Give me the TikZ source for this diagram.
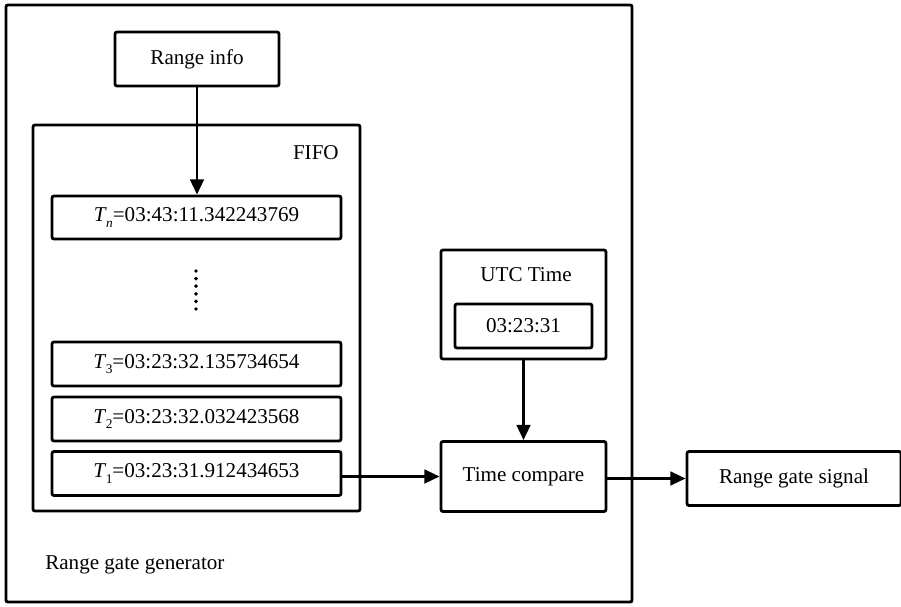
\documentclass[tikz,border=0pt]{standalone}
\usepackage{fontspec}
\setmainfont{Liberation Serif}
\usetikzlibrary{arrows.meta,positioning}
\newcommand{\tsub}[1]{\textit{T}\kern-0.5pt\raisebox{-0.55ex}{\fontsize{9.5}{10}\selectfont #1}}
\tikzset{
  blk/.style={draw,line width=2pt,rounded corners=1.5pt,align=center,
              font=\fontsize{15}{18}\selectfont,inner sep=2pt,fill=white},
  frame/.style={draw,line width=2pt,rounded corners=1.5pt},
  lbl/.style={font=\fontsize{15}{18}\selectfont,inner sep=0pt},
  arr/.style={-{Triangle[length=3.8mm,width=3.4mm]},line width=2pt},
}
\begin{document}
\begin{tikzpicture}[x=0.025cm,y=-0.025cm]
  \useasboundingbox (0,0) rectangle (901,606);
  \node[frame,minimum width=15.65cm,minimum height=14.925cm] (gen) at (319,303.5) {};
  \node[lbl,anchor=west] (genlbl) at (45,565) {Range gate generator};
  % range info and fifo
  \node[blk,minimum width=4.1cm,minimum height=1.35cm] (rinfo) at (197,59) {Range info};
  \node[frame,minimum width=8.175cm,minimum height=9.65cm] (fifo) at (196.5,318) {};
  \node[lbl,anchor=east] (fifolbl) at (339,153) {FIFO};
  \node[blk,minimum width=7.225cm,minimum height=1.075cm] (tn) at (196.5,217.5) {\tsub{\textit{n}}=03:43:11.342243769};
  \foreach \k in {0,...,5} \fill (196,271+7.6*\k) circle (1.4pt);
  \node[blk,minimum width=7.225cm,minimum height=1.1cm] (t3) at (196.5,364) {\tsub{3}=03:23:32.135734654};
  \node[blk,minimum width=7.225cm,minimum height=1.1cm] (t2) at (196.5,419) {\tsub{2}=03:23:32.032423568};
  \node[blk,minimum width=7.225cm,minimum height=1.1cm] (t1) at (196.5,473.5) {\tsub{1}=03:23:31.912434653};
  % clock and compare
  \node[frame,minimum width=4.125cm,minimum height=2.725cm] (utc) at (523.5,304.5) {};
  \node[lbl] (utclbl) at (526,275) {UTC Time};
  \node[blk,minimum width=3.425cm,minimum height=1.1cm] (clock) at (523.5,326) {03:23:31};
  \node[blk,minimum width=4.125cm,minimum height=1.75cm] (tc) at (523.5,476.5) {Time compare};
  \node[blk,minimum width=5.35cm,minimum height=1.35cm] (rgs) at (794,478.5) {Range gate signal};
  \draw[arr] (rinfo.south) -- (rinfo.south |- tn.north);
  \draw[arr] (utc.south) -- (tc.north);
  \draw[arr] (t1.east |- tc.west) -- (tc.west);
  \draw[arr] (tc.east |- rgs.west) -- (rgs.west);
\end{tikzpicture}
\end{document}
